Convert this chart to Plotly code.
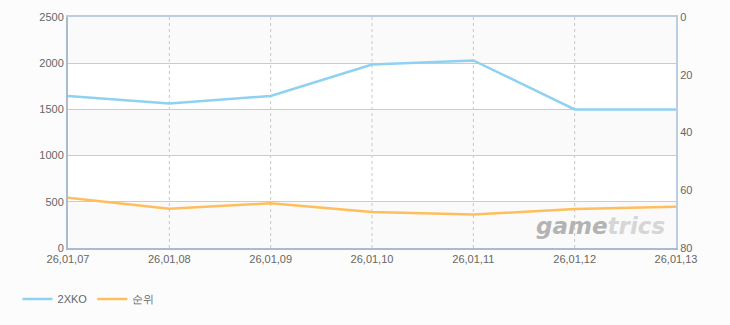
import plotly.graph_objects as go

dates = ["26,01,07", "26,01,08", "26,01,09", "26,01,10", "26,01,11", "26,01,12", "26,01,13"]
players = [1645, 1565, 1645, 1985, 2030, 1500, 1500]
ranks = [62.6, 66.4, 64.5, 67.5, 68.4, 66.5, 65.7]
left_ticks = [0, 500, 1000, 1500, 2000, 2500]
right_ticks = [0, 20, 40, 60, 80]

FONT = "Liberation Sans, Arial, sans-serif"
fig = go.Figure()

fig.add_trace(go.Scatter(x=list(range(len(dates))), y=players, name="2XKO", mode="lines",
                         line=dict(color="#8fd1f2", width=2.5), yaxis="y"))
fig.add_trace(go.Scatter(x=list(range(len(dates))), y=ranks, name="순위", mode="lines",
                         line=dict(color="#ffbe5c", width=2.5), yaxis="y2"))

# alternating background bands
shapes = []
for i in range(len(left_ticks) - 1):
    if i % 2 == 0:
        shapes.append(dict(type="rect", xref="paper", yref="y", x0=0, x1=1,
                           y0=left_ticks[i], y1=left_ticks[i + 1],
                           fillcolor="#fafafa", line=dict(width=0), layer="below"))
# vertical dashed grid
for i in range(1, len(dates) - 1):
    shapes.append(dict(type="line", xref="x", yref="paper", x0=i, x1=i, y0=0, y1=1,
                       line=dict(color="#c8c8c8", width=1, dash="3px,3px"), layer="below"))

fig.update_layout(
    width=730, height=325,
    margin=dict(l=68, r=54, t=17, b=77, autoexpand=False),
    paper_bgcolor="#fcfcfc", plot_bgcolor="#ffffff",
    font=dict(family=FONT, size=11, color="#666666"),
    shapes=shapes,
    xaxis=dict(range=[0, len(dates) - 1], tickvals=list(range(len(dates))), ticktext=dates,
               showgrid=False, zeroline=False, showline=True, linecolor="#a9bbcf", linewidth=2,
               mirror=False, ticks="", tickfont=dict(size=11, color="#666666")),
    xaxis2=dict(overlaying="x", side="top", range=[0, 1], showticklabels=False,
                showline=True, linecolor="#bccde0", linewidth=2, showgrid=False, zeroline=False),
    yaxis=dict(range=[0, 2500], tickvals=left_ticks, showgrid=True, gridcolor="#cccccc",
               gridwidth=1, zeroline=False, showline=True, linecolor="#a9bbcf", linewidth=2,
               ticks="", tickfont=dict(size=11, color="#666666")),
    yaxis2=dict(range=[80, 0], tickvals=right_ticks, overlaying="y", side="right",
                showgrid=False, zeroline=False, showline=True, linecolor="#bccde0", linewidth=2,
                ticks="", tickfont=dict(size=11, color="#666666")),
    legend=dict(orientation="h", xref="container", yref="container", x=0.024, y=0.08,
                xanchor="left", yanchor="middle",
                font=dict(size=11, color="#666666"), bgcolor="rgba(0,0,0,0)"),
    showlegend=True,
)
# invisible trace so that the top border (xaxis2) is drawn
fig.add_trace(go.Scatter(x=[0], y=[0], xaxis="x2", yaxis="y", showlegend=False,
                         mode="markers", marker=dict(opacity=0), hoverinfo="skip"))

fig.add_annotation(xref="paper", yref="paper", x=0.985, y=0.03, xanchor="right", yanchor="bottom",
                   text="<b><i><span style='color:#b3b3b3'>game</span><span style='color:#d6d6d6'>trics</span></i></b>",
                   showarrow=False, font=dict(family="DejaVu Sans, sans-serif", size=23))

fig.write_html("out.html")
